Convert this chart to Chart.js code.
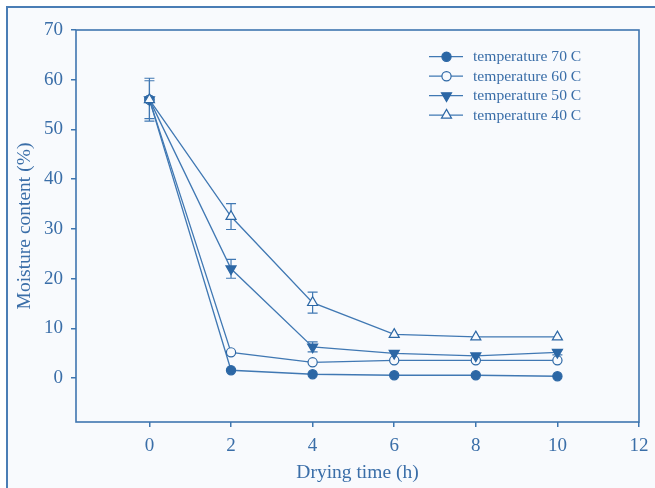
<!DOCTYPE html>
<html>
<head>
<meta charset="utf-8">
<script src="https://cdn.jsdelivr.net/npm/chart.js@4/dist/chart.umd.min.js"></script>
<style>
html,body{margin:0;padding:0;background:#fff;}
canvas{display:block;}
</style>
</head>
<body>
<canvas id="c" width="655" height="488"></canvas>
<script>
// ---- data ----
const dryingTime = [0, 2, 4, 6, 8, 10];
const seriesLabels = ['temperature 70 C', 'temperature 60 C', 'temperature 50 C', 'temperature 40 C'];
const temp70 = [56, 1.6, 0.8, 0.6, 0.6, 0.4];
const temp60 = [56, 5.2, 3.2, 3.6, 3.6, 3.6];
const temp50 = [56, 22.0, 6.3, 5.0, 4.5, 5.2];
const temp40 = [56, 32.5, 15.2, 8.8, 8.3, 8.3];
const err70 = [0, 0, 0, 0, 0, 0];
const err60 = [0, 0, 0, 0, 0, 0];
const err50 = [3.8, 1.9, 1.0, 0, 0, 0.5];
const err40 = [4.3, 2.6, 2.1, 0, 0, 0];
const xTickLabels = [0, 2, 4, 6, 8, 10, 12];
const yTickLabels = [0, 10, 20, 30, 40, 50, 60, 70];

// ---- styles ----
const LINE = '#4078b3';
const MARK = '#2c67a5';
const AXIS = '#3f76b0';
const TEXT = '#3a6ea8';
const BG = '#f8fafd';
const FONT = 'Liberation Serif, Times New Roman, serif';

function pts(arr){ return dryingTime.map((x,i)=>({x:x, y:arr[i]})); }

const seriesDefs = [
  {label: seriesLabels[0], data: temp70, err: err70, style: 'circle', rot: 0, fill: MARK, order: 3},
  {label: seriesLabels[1], data: temp60, err: err60, style: 'circle', rot: 0, fill: BG, order: 2},
  {label: seriesLabels[2], data: temp50, err: err50, style: 'triangle', rot: 180, fill: MARK, order: 1},
  {label: seriesLabels[3], data: temp40, err: err40, style: 'triangle', rot: 0, fill: BG, order: 0},
];

const datasets = seriesDefs.map(s => ({
  label: s.label,
  data: pts(s.data),
  errors: s.err,
  order: s.order,
  borderColor: LINE,
  borderWidth: 1.3,
  pointStyle: s.style,
  pointRotation: s.rot,
  pointRadius: s.style === 'circle' ? 4.6 : 5.8,
  pointBorderColor: MARK,
  pointBorderWidth: 1.2,
  pointBackgroundColor: s.fill,
  showLine: true,
  fill: false,
  tension: 0
}));

const framePlugin = {
  id: 'frame',
  beforeDraw(chart){
    const ctx = chart.ctx;
    ctx.save();
    ctx.fillStyle = '#ffffff';
    ctx.fillRect(0,0,chart.width,chart.height);
    ctx.fillStyle = BG;
    ctx.fillRect(7,7,chart.width-7,chart.height-7);
    ctx.strokeStyle = '#4a7db5';
    ctx.lineWidth = 2;
    ctx.beginPath();
    ctx.moveTo(7, chart.height); ctx.lineTo(7,7); ctx.lineTo(chart.width,7);
    ctx.stroke();
    ctx.restore();
  },
  beforeDatasetsDraw(chart){
    const ctx = chart.ctx;
    const xs = chart.scales.x, ys = chart.scales.y;
    ctx.save();
    ctx.strokeStyle = LINE;
    ctx.lineWidth = 1.2;
    chart.data.datasets.forEach(ds => {
      ds.data.forEach((p,i) => {
        const e = ds.errors[i];
        if (!e) return;
        const px = xs.getPixelForValue(p.x);
        const top = ys.getPixelForValue(p.y + e);
        const bot = ys.getPixelForValue(p.y - e);
        ctx.beginPath();
        ctx.moveTo(px, top); ctx.lineTo(px, bot);
        ctx.moveTo(px-5, top); ctx.lineTo(px+5, top);
        ctx.moveTo(px-5, bot); ctx.lineTo(px+5, bot);
        ctx.stroke();
      });
    });
    ctx.restore();
  },
  afterDraw(chart){
    const ctx = chart.ctx;
    const a = chart.chartArea;
    ctx.save();
    ctx.strokeStyle = AXIS;
    ctx.lineWidth = 1.6;
    ctx.strokeRect(a.left, a.top, a.right - a.left, a.bottom - a.top);
    // legend
    const rowsY = [56.7, 76.2, 95.7, 115.2];
    ctx.font = '15.6px ' + FONT;
    ctx.textBaseline = 'middle';
    ctx.textAlign = 'left';
    seriesLabels.forEach((lab, i) => {
      const ds = chart.data.datasets[i];
      const y = rowsY[i];
      ctx.strokeStyle = LINE;
      ctx.lineWidth = 1.3;
      ctx.beginPath(); ctx.moveTo(429, y); ctx.lineTo(463, y); ctx.stroke();
      ctx.fillStyle = ds.pointBackgroundColor;
      ctx.strokeStyle = ds.pointBorderColor;
      ctx.lineWidth = ds.pointBorderWidth;
      Chart.helpers.drawPoint(ctx, {
        pointStyle: ds.pointStyle, rotation: ds.pointRotation,
        radius: ds.pointRadius, borderWidth: ds.pointBorderWidth
      }, 446.5, y);
      ctx.fillStyle = TEXT;
      ctx.fillText(lab, 473, y + 0.5);
    });
    ctx.restore();
  }
};

new Chart(document.getElementById('c'), {
  type: 'scatter',
  data: { datasets: datasets },
  plugins: [framePlugin],
  options: {
    responsive: false,
    devicePixelRatio: 1,
    animation: false,
    layout: { padding: { left: 0, top: 30, right: 16, bottom: 0 } },
    plugins: { legend: { display: false }, tooltip: { enabled: false } },
    scales: {
      x: {
        type: 'linear', min: -1.8, max: 12,
        afterBuildTicks: s => { s.ticks = xTickLabels.map(v => ({value: v})); },
        afterFit: s => { s.height = 66; },
        grid: { drawOnChartArea: false, drawTicks: true, tickLength: 5, color: AXIS, lineWidth: 1.5 },
        border: { display: false },
        ticks: { color: TEXT, font: { family: FONT, size: 19, lineHeight: 1.42 }, padding: 6, maxRotation: 0 },
        title: { display: true, text: 'Drying time (h)', color: TEXT, font: { family: FONT, size: 19.5 }, padding: { top: 0, bottom: 3 } }
      },
      y: {
        type: 'linear', min: -8.8, max: 70,
        afterBuildTicks: s => { s.ticks = yTickLabels.map(v => ({value: v})); },
        afterFit: s => { s.width = 76; },
        grid: { drawOnChartArea: false, drawTicks: true, tickLength: 5, color: AXIS, lineWidth: 1.5 },
        border: { display: false },
        ticks: { color: TEXT, font: { family: FONT, size: 19 }, padding: 8 },
        title: { display: true, text: 'Moisture content (%)', color: TEXT, font: { family: FONT, size: 19.5 }, padding: { top: 13, bottom: 0 } }
      }
    }
  }
});
</script>
</body>
</html>
